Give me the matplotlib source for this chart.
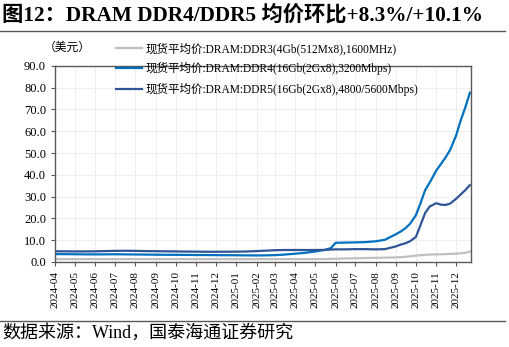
import matplotlib
matplotlib.use("Agg")
import matplotlib.pyplot as plt
import matplotlib.dates as mdates
import pandas as pd

plt.rcParams['font.family'] = ['Liberation Serif', 'Noto Sans CJK SC']

dates = ["2024-04-01", "2024-04-15", "2024-05-01", "2024-05-15", "2024-06-01", "2024-06-15",
         "2024-07-01", "2024-07-15", "2024-08-01", "2024-08-15", "2024-09-01", "2024-09-15",
         "2024-10-01", "2024-10-15", "2024-11-01", "2024-11-15", "2024-12-01", "2024-12-15",
         "2025-01-01", "2025-01-15", "2025-02-01", "2025-02-15", "2025-03-01", "2025-03-15",
         "2025-04-01", "2025-04-15", "2025-05-01", "2025-05-15", "2025-05-25", "2025-06-01",
         "2025-06-15", "2025-07-01", "2025-07-15", "2025-08-01", "2025-08-15", "2025-09-01",
         "2025-09-08", "2025-09-15", "2025-09-22", "2025-10-01", "2025-10-08", "2025-10-15",
         "2025-10-22", "2025-11-01", "2025-11-08", "2025-11-15", "2025-11-22", "2025-12-01",
         "2025-12-08", "2025-12-15", "2025-12-22"]

ddr3 = [1.3, 1.3, 1.3, 1.3, 1.3, 1.3, 1.3, 1.3, 1.3, 1.3, 1.3, 1.3,
        1.3, 1.3, 1.3, 1.3, 1.3, 1.3, 1.3, 1.3, 1.3, 1.3, 1.3, 1.3,
        1.3, 1.3, 1.3, 1.35, 1.4, 1.5, 1.6, 1.7, 1.8, 1.9, 2.0, 2.1,
        2.2, 2.4, 2.6, 2.9, 3.1, 3.3, 3.4, 3.5, 3.55, 3.6, 3.7, 3.8,
        4.0, 4.2, 4.8]

ddr4 = [3.6, 3.6, 3.55, 3.5, 3.5, 3.5, 3.55, 3.5, 3.45, 3.4, 3.35, 3.3,
        3.3, 3.25, 3.2, 3.2, 3.15, 3.1, 3.1, 3.05, 3.0, 3.05, 3.15, 3.4,
        3.8, 4.2, 4.8, 5.5, 6.4, 8.8, 8.9, 9.0, 9.1, 9.5, 10.2, 12.8,
        14.0, 15.5, 17.5, 21.5, 27.0, 33.0, 36.5, 42.0, 45.0, 48.0, 51.5, 58.0,
        65.0, 71.0, 77.7]

ddr5 = [4.9, 4.9, 4.85, 4.85, 4.9, 5.0, 5.1, 5.15, 5.1, 5.0, 4.95, 4.9,
        4.85, 4.8, 4.75, 4.7, 4.7, 4.7, 4.75, 4.8, 5.0, 5.2, 5.4, 5.5,
        5.5, 5.5, 5.5, 5.55, 5.7, 5.8, 5.8, 5.9, 5.9, 5.8, 5.9, 7.2,
        8.0, 8.6, 9.5, 11.5, 17.0, 22.5, 25.5, 27.0, 26.3, 26.2, 26.8, 29.0,
        31.0, 33.0, 35.3]

labels = ["现货平均价:DRAM:DDR3(4Gb(512Mx8),1600MHz)",
          "现货平均价:DRAM:DDR4(16Gb(2Gx8),3200Mbps)",
          "现货平均价:DRAM:DDR5(16Gb(2Gx8),4800/5600Mbps)"]
colors = ["#BFBFBF", "#0070C0", "#2F5597"]

x = pd.to_datetime(dates)

fig = plt.figure(figsize=(5.10, 3.47), dpi=100)
ax = fig.add_axes([0.108, 0.245, 0.816, 0.565])

lines = []
for series, color, label in zip([ddr3, ddr4, ddr5], colors, labels):
    line, = ax.plot(x, series, color=color, linewidth=1.6, label=label)
    lines.append(line)

ax.set_ylim(0, 90)
ax.set_yticks(range(0, 91, 10))
ax.yaxis.set_major_formatter(matplotlib.ticker.FormatStrFormatter('%.1f'))
ax.set_xlim(pd.Timestamp("2024-04-01"), pd.Timestamp("2025-12-24"))
ax.xaxis.set_major_locator(mdates.MonthLocator())
ax.xaxis.set_major_formatter(mdates.DateFormatter('%Y-%m'))
ax.tick_params(axis='x', rotation=90, labelsize=8, length=3, color="#595959")
ax.tick_params(axis='y', labelsize=9, length=3, color="#595959")
ax.grid(True, color="#EBEBEB", linewidth=0.6)
ax.set_axisbelow(True)
for spine in ax.spines.values():
    spine.set_color("#595959")
    spine.set_linewidth(1.0)

# legend sits partly over the top of the plot area
fig.legend(handles=lines, loc="upper left", bbox_to_anchor=(0.228, 0.878), frameon=False,
           fontsize=8.3, handlelength=2.2, handletextpad=0.3, labelspacing=0.62,
           borderaxespad=0, borderpad=0)

fig.text(0.085, 0.865, "（美元）", fontsize=8.5, va="center",
         family=['Noto Sans CJK SC', 'DejaVu Sans'])

fig.text(0.003, 0.955, "图12：DRAM DDR4/DDR5 均价环比+8.3%/+10.1%", fontsize=15.3,
         fontweight="bold", va="center")
fig.add_artist(plt.Line2D([0.0, 0.99], [0.91, 0.91], color="#595959", linewidth=1.0))
fig.add_artist(plt.Line2D([0.0, 0.99], [0.075, 0.075], color="#595959", linewidth=1.0))
fig.text(0.005, 0.04, "数据来源：Wind，国泰海通证券研究", fontsize=13, va="center")

fig.savefig("out.png", dpi=100)
